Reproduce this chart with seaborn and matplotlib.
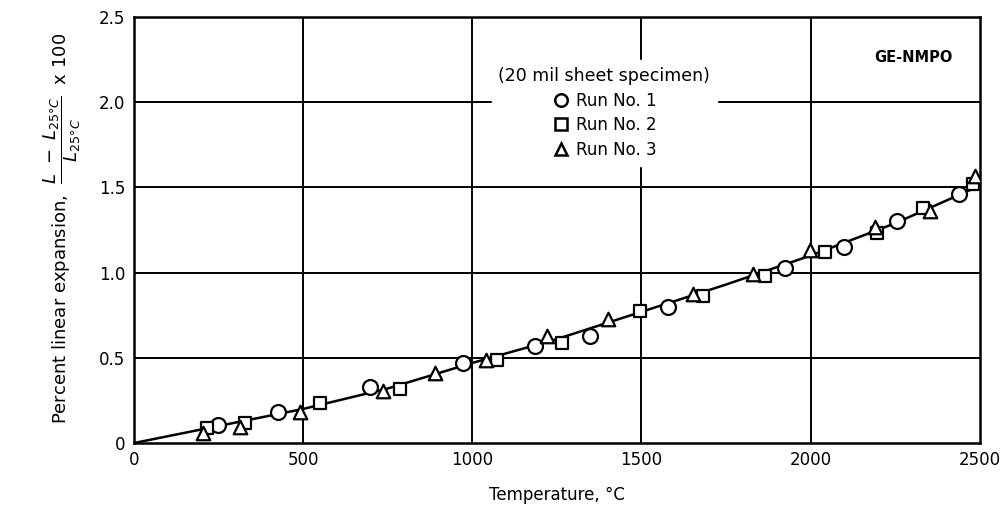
import matplotlib
matplotlib.use("Agg")
import matplotlib.pyplot as plt
from matplotlib.lines import Line2D
import seaborn as sns
import pandas as pd

# Run No. 1 (circles)
run1_temp = [249, 427, 697, 973, 1185, 1347, 1579, 1924, 2098, 2254, 2439]
run1_exp = [0.105, 0.185, 0.33, 0.47, 0.57, 0.63, 0.80, 1.03, 1.15, 1.30, 1.46]

# Run No. 2 (squares)
run2_temp = [215, 328, 550, 786, 1074, 1264, 1495, 1682, 1865, 2042, 2195, 2333, 2480]
run2_exp = [0.09, 0.115, 0.235, 0.32, 0.49, 0.585, 0.775, 0.865, 0.98, 1.12, 1.235, 1.38, 1.52]

# Run No. 3 (triangles)
run3_temp = [205, 313, 490, 735, 889, 1040, 1220, 1402, 1653, 1830, 1998, 2190, 2352, 2485]
run3_exp = [0.06, 0.095, 0.185, 0.305, 0.41, 0.49, 0.63, 0.73, 0.875, 0.99, 1.13, 1.265, 1.36, 1.565]

# Faired curve through the data
curve_temp = [0, 250, 500, 750, 1000, 1250, 1500, 1750, 2000, 2250, 2500]
curve_exp = [0.0, 0.10, 0.20, 0.32, 0.47, 0.61, 0.77, 0.93, 1.10, 1.29, 1.51]

run_labels = ["Run No. 1", "Run No. 2", "Run No. 3"]
x_ticks = [0, 500, 1000, 1500, 2000, 2500]
y_ticks = [0, 0.5, 1.0, 1.5, 2.0, 2.5]
y_tick_labels = ["0", "0.5", "1.0", "1.5", "2.0", "2.5"]

sns.set_theme(style="white")
plt.rcParams["font.family"] = ["DejaVu Sans"]
plt.rcParams["mathtext.fontset"] = "dejavusans"
plt.rcParams["text.color"] = "black"
plt.rcParams["axes.labelcolor"] = "black"
plt.rcParams["xtick.color"] = "black"
plt.rcParams["ytick.color"] = "black"

df = pd.concat([
    pd.DataFrame({"temp": run1_temp, "exp": run1_exp, "run": run_labels[0]}),
    pd.DataFrame({"temp": run2_temp, "exp": run2_exp, "run": run_labels[1]}),
    pd.DataFrame({"temp": run3_temp, "exp": run3_exp, "run": run_labels[2]}),
])
curve = pd.DataFrame({"temp": curve_temp, "exp": curve_exp})

fig = plt.figure(figsize=(10.06, 5.14), dpi=100)
ax = fig.add_axes([0.133, 0.138, 0.841, 0.829])

# Grid
for xv in x_ticks[1:-1]:
    ax.axvline(xv, color="black", lw=1.4, zorder=1)
for yv in y_ticks[1:-1]:
    ax.axhline(yv, color="black", lw=1.4, zorder=1)

sns.lineplot(data=curve, x="temp", y="exp", color="black", lw=1.8, ax=ax, zorder=3)

marker_map = {run_labels[0]: "o", run_labels[1]: "s", run_labels[2]: "^"}
size_map = {run_labels[0]: 115, run_labels[1]: 85, run_labels[2]: 95}
for lab in run_labels:
    sub = df[df["run"] == lab]
    sns.scatterplot(data=sub, x="temp", y="exp", marker=marker_map[lab], s=size_map[lab],
                    color="white", edgecolor="black", linewidth=1.6, ax=ax, zorder=4,
                    legend=False)

ax.set_xlim(0, 2500)
ax.set_ylim(0, 2.5)
ax.set_xticks(x_ticks)
ax.set_yticks(y_ticks)
ax.set_yticklabels(y_tick_labels)
ax.tick_params(axis="both", length=0, labelsize=12, colors="black", pad=6)
for sp in ax.spines.values():
    sp.set_visible(True)
    sp.set_color("black")
    sp.set_linewidth(1.8)

ax.set_xlabel("Temperature, \u00b0C", fontsize=12, labelpad=12)
ax.set_ylabel("")
fig.text(0.062, 0.555,
         r"Percent linear expansion,  $\dfrac{L\ -\ L_{25\degree C}}{L_{25\degree C}}$  x 100",
         rotation=90, ha="center", va="center", fontsize=13)

ax.text(0.922, 0.905, "GE-NMPO", transform=ax.transAxes, ha="center", va="center",
        fontsize=10.5, fontweight="bold")

handles = [Line2D([], [], ls="none", marker=marker_map[lab], markersize=9,
                  markerfacecolor="white", markeredgecolor="black", markeredgewidth=1.8)
           for lab in run_labels]
leg = ax.legend(handles, run_labels, title="(20 mil sheet specimen)", loc="upper left",
                bbox_to_anchor=(0.413, 0.918), frameon=True, fontsize=12,
                title_fontsize=12.5, handletextpad=0.4, labelspacing=0.4,
                borderpad=0.4, handlelength=1.0)
leg.get_frame().set_facecolor("white")
leg.get_frame().set_edgecolor("white")
leg.get_frame().set_alpha(1.0)
leg.set_zorder(5)
for t in leg.get_texts():
    t.set_color("black")
leg.get_title().set_color("black")
leg._legend_box.align = "center"

fig.savefig("out.png", dpi=100, facecolor="white")
